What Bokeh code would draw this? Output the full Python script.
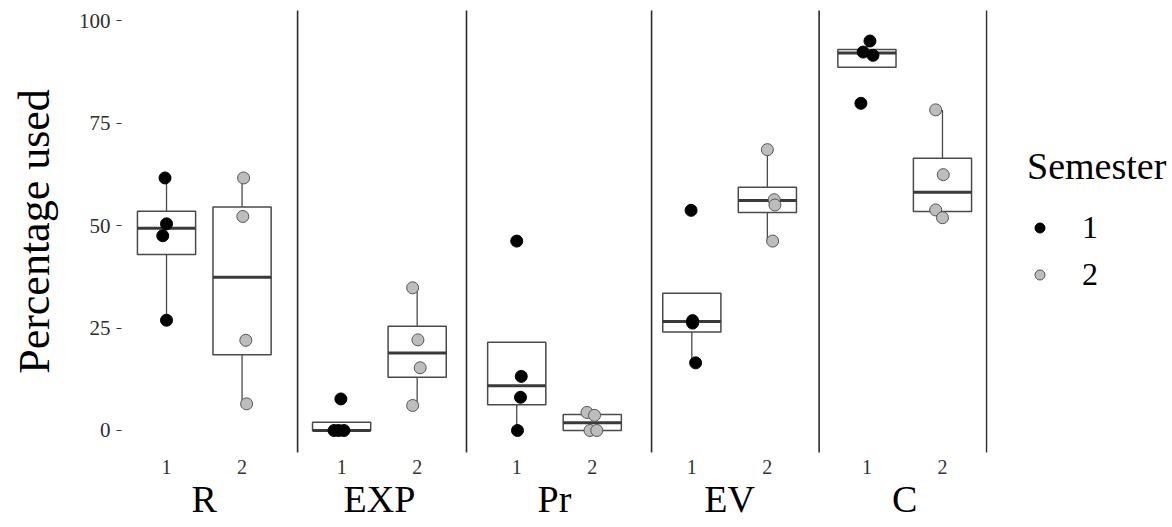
from bokeh.plotting import figure
from bokeh.models import (FactorRange, Range1d, FixedTicker, Legend, LegendItem,
                          ColumnDataSource)
from bokeh.embed import file_html
from bokeh.resources import INLINE

# ---------------- data ----------------
strategies = ["R", "EXP", "Pr", "EV", "C"]
semesters = ["1", "2"]
y_ticks = [0, 25, 50, 75, 100]

# individual observations, 4 per strategy, in strategy order
sem1_strategy = ["R"] * 4 + ["EXP"] * 4 + ["Pr"] * 4 + ["EV"] * 4 + ["C"] * 4
sem1_values = [61.6, 50.4, 47.5, 26.9,
               7.7, 0.0, 0.0, 0.0,
               46.2, 13.2, 8.1, 0.0,
               53.7, 26.8, 26.2, 16.5,
               95.0, 92.3, 91.5, 79.8]
sem1_jitter = [-0.02, 0.0, -0.05, 0.0,
               -0.01, -0.10, -0.04, 0.03,
               0.0, 0.06, 0.05, 0.01,
               -0.01, 0.01, 0.01, 0.05,
               0.04, -0.05, 0.08, -0.08]

sem2_strategy = ["R"] * 4 + ["EXP"] * 4 + ["Pr"] * 4 + ["EV"] * 4 + ["C"] * 4
sem2_values = [61.6, 52.2, 22.0, 6.5,
               34.8, 22.1, 15.3, 6.1,
               4.4, 3.7, 0.0, 0.0,
               68.5, 56.3, 55.0, 46.2,
               78.2, 62.4, 53.8, 51.9]
sem2_jitter = [0.02, 0.01, 0.05, 0.06,
               -0.06, 0.01, 0.04, -0.06,
               -0.07, 0.03, -0.03, 0.06,
               0.0, 0.09, 0.10, 0.07,
               -0.09, 0.01, -0.09, 0.0]

# box statistics per (strategy, semester): R1, R2, EXP1, EXP2, Pr1, Pr2, EV1, EV2, C1, C2
box_q1 = [42.9, 18.5, 0.0, 13.0, 6.3, 0.0, 24.0, 53.2, 88.6, 53.4]
box_median = [49.3, 37.4, 0.0, 18.9, 10.9, 1.9, 26.6, 56.1, 92.1, 58.1]
box_q3 = [53.5, 54.5, 2.0, 25.4, 21.5, 3.9, 33.5, 59.3, 92.9, 66.4]
whisker_low = [26.9, 6.5, 0.0, 6.1, 0.0, 0.0, 16.5, 46.2, 88.6, 51.9]
whisker_high = [61.6, 61.6, 2.0, 34.8, 21.5, 4.4, 33.5, 68.5, 95.0, 78.2]

# ---------------- layout / style ----------------
FONT = "Liberation Serif"
BOX_W = 0.77
separator_offsets = [0.735, 0.653, 0.785, 0.685, 0.585]   # right of each panel's "2"

factors = [(s, sem) for s in strategies for sem in semesters]
x_range = FactorRange(*factors, factor_padding=0.0, group_padding=0.318,
                      range_padding=0.096, range_padding_units="absolute")

p = figure(x_range=x_range, y_range=Range1d(-5.366, 102.44),
           frame_width=866, frame_height=442,
           min_border_left=121, min_border_right=177, min_border_top=10,
           min_border_bottom=60,
           output_backend="svg", toolbar_location=None)
p.outline_line_color = None
p.xgrid.visible = False
p.ygrid.visible = False
p.background_fill_color = "white"
p.border_fill_color = "white"

# separators between panels
sep_x = [(s, "2", o) for s, o in zip(strategies, separator_offsets)]
p.segment(x0=sep_x, x1=sep_x, y0=[-20] * len(sep_x), y1=[120] * len(sep_x),
          line_color="#2b2b2b", line_width=1.6)

# boxes
box_src = ColumnDataSource(dict(
    x=factors, q1=box_q1, med=box_median, q3=box_q3, lo=whisker_low, hi=whisker_high,
    left=[(s, sem, -BOX_W / 2) for s, sem in factors],
    right=[(s, sem, BOX_W / 2) for s, sem in factors],
))
p.segment(x0="x", x1="x", y0="q3", y1="hi", source=box_src, line_color="#4a4a4a", line_width=1.3)
p.segment(x0="x", x1="x", y0="q1", y1="lo", source=box_src, line_color="#4a4a4a", line_width=1.3)
p.vbar(x="x", width=BOX_W, bottom="q1", top="q3", source=box_src,
       fill_color="white", line_color="#4a4a4a", line_width=1.5)
p.segment(x0="left", x1="right", y0="med", y1="med", source=box_src,
          line_color="#3a3a3a", line_width=3)

# points
src1 = ColumnDataSource(dict(
    x=[(s, "1", j) for s, j in zip(sem1_strategy, sem1_jitter)], y=sem1_values))
src2 = ColumnDataSource(dict(
    x=[(s, "2", j) for s, j in zip(sem2_strategy, sem2_jitter)], y=sem2_values))
r1 = p.scatter(x="x", y="y", source=src1, size=12, fill_color="black",
               line_color="black", line_width=1)
r2 = p.scatter(x="x", y="y", source=src2, size=12, fill_color="#bdbdbd",
               line_color="#555555", line_width=1)

# y axis
ya = p.yaxis[0]
ya.ticker = FixedTicker(ticks=y_ticks)
ya.minor_tick_line_color = None
ya.axis_line_color = None
ya.major_tick_in = 0
ya.major_tick_out = 5
ya.major_tick_line_color = "#333333"
ya.major_label_standoff = 6
ya.major_label_text_font = FONT
ya.major_label_text_font_size = "21px"
ya.major_label_text_color = "#2e2e2e"
ya.axis_label = "Percentage used"
ya.axis_label_text_font = FONT
ya.axis_label_text_font_size = "44px"
ya.axis_label_text_font_style = "normal"
ya.axis_label_text_color = "black"
ya.axis_label_standoff = 17

# x axis
xa = p.xaxis[0]
xa.axis_line_color = None
xa.major_tick_line_color = None
xa.minor_tick_line_color = None
xa.separator_line_color = None
xa.major_label_standoff = 1
xa.major_label_text_font = FONT
xa.major_label_text_font_size = "20px"
xa.major_label_text_color = "#333333"
xa.group_text_font = FONT
xa.group_text_font_size = "38px"
xa.group_text_font_style = "normal"
xa.group_text_color = "black"

# legend
legend = Legend(items=[LegendItem(label="1", renderers=[r1]),
                       LegendItem(label="2", renderers=[r2])],
                title="Semester", location=(40, 159))
legend.title_text_font = FONT
legend.title_text_font_size = "38px"
legend.title_text_font_style = "normal"
legend.title_text_color = "black"
legend.title_standoff = 21
legend.label_text_font = FONT
legend.label_text_font_size = "32px"
legend.label_text_color = "black"
legend.glyph_width = 25
legend.glyph_height = 25
legend.label_standoff = 30
legend.spacing = 10
legend.padding = 0
legend.margin = 0
legend.border_line_color = None
legend.background_fill_alpha = 0
p.add_layout(legend, "right")

open("out.html", "w").write(file_html(p, INLINE))
